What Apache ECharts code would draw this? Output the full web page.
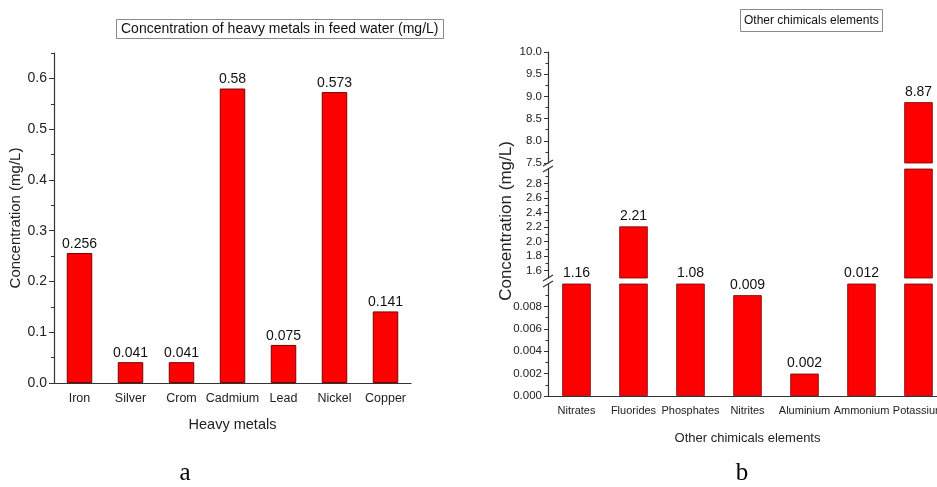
<!DOCTYPE html>
<html><head><meta charset="utf-8">
<script src="https://cdn.jsdelivr.net/npm/echarts@6/dist/echarts.min.js"></script>
<style>html,body{margin:0;padding:0;background:#fff}#c{width:937px;height:487px}</style>
</head><body><div id="c"></div>
<script>
// ---- data: chart a ----
const metals = ['Iron','Silver','Crom','Cadmium','Lead','Nickel','Copper'];
const metalValues = [0.256,0.041,0.041,0.58,0.075,0.573,0.141];
const metalTicks = [0,0.1,0.2,0.3,0.4,0.5,0.6];
const metalMinorTicks = [0.05,0.15,0.25,0.35,0.45,0.55,0.65];
// ---- data: chart b ----
const chems = ['Nitrates','Fluorides','Phosphates','Nitrites','Aluminium','Ammonium','Potassium'];
const chemValues = [1.16,2.21,1.08,0.009,0.002,0.012,8.87];
// broken axis segments (bottom -> top)
const segMin = [0, 1.5, 7.5];
const segMax = [0.01, 3.0, 10.0];
const lowTicks = [0,0.002,0.004,0.006,0.008];
const lowMinor = [0.001,0.003,0.005,0.007,0.009];
const midTicks = [1.6,1.8,2.0,2.2,2.4,2.6,2.8];
const midMinor = [1.7,1.9,2.1,2.3,2.5,2.7,2.9];
const upTicks = [7.5,8.0,8.5,9.0,9.5,10.0];
const upMinor = [7.75,8.25,8.75,9.25,9.75];
const segTicks = [lowTicks, midTicks, upTicks];
const segMinor = [lowMinor, midMinor, upMinor];
const segDecimals = [3, 1, 1];

const SANS = 'Liberation Sans, Arial, sans-serif';
const AX = '#333';
const RED = '#ff0000';
const BORDER = '#7a0000';

const chart = echarts.init(document.getElementById('c'), null, {renderer:'canvas'});

// layout of right chart segments (bottom -> top)
const RL = 548, RW = 399;
const segLayout = [{top:284,height:112},{top:169,height:109},{top:52,height:111}];

const grids = [{left:54, top:53, width:357, height:330, outerBoundsMode:'none', containLabel:false}];
segLayout.forEach(s=>grids.push({left:RL, top:s.top, width:RW, height:s.height, outerBoundsMode:'none', containLabel:false}));

const xAxes = [
  {gridIndex:0, type:'category', data:metals,
   axisLine:{lineStyle:{color:AX,width:1.2}},
   axisTick:{alignWithLabel:true, interval:0, length:5, lineStyle:{color:AX}},
   axisLabel:{interval:0, color:'#222', fontSize:12.5, fontFamily:SANS, margin:9},
   name:'Heavy metals', nameLocation:'middle', nameGap:34,
   nameTextStyle:{color:'#222', fontSize:14.5, fontFamily:SANS}},
  {gridIndex:0, type:'category', data:metals, position:'bottom',
   axisLine:{show:false}, axisLabel:{show:false},
   axisTick:{inside:true, interval:0, length:3, lineStyle:{color:AX}}}
];
const yAxes = [
  {gridIndex:0, type:'value', min:0, max:0.65, position:'left',
   splitLine:{show:false},
   axisLine:{show:true, lineStyle:{color:AX,width:1.2}},
   axisTick:{show:true, length:5, customValues:metalTicks, lineStyle:{color:AX}},
   axisLabel:{customValues:metalTicks, color:'#222', fontSize:14, fontFamily:SANS, margin:7,
     formatter:v=>v.toFixed(1)},
   name:'Concentration (mg/L)', nameLocation:'middle', nameGap:28, nameRotate:90,
   nameTextStyle:{color:'#222', fontSize:15, fontFamily:SANS}},
  {gridIndex:0, type:'value', min:0, max:0.65, position:'left', splitLine:{show:false},
   axisLine:{show:false}, axisLabel:{show:false},
   axisTick:{show:true, length:3, customValues:metalMinorTicks, lineStyle:{color:AX}}}
];

const series = [{
  type:'bar', xAxisIndex:0, yAxisIndex:0, data:metalValues, barWidth:'50%',
  itemStyle:{color:RED, borderColor:BORDER, borderWidth:1},
  label:{show:true, position:'top', distance:2, color:'#111', fontSize:14, fontFamily:SANS},
  animation:false
}];

function segLabel(k){
  return function(p){
    const v = p.value, lo = segMin[k];
    const hi = k+1 < segMin.length ? segMin[k+1] : Infinity;
    return (v >= lo && v < hi) ? String(v) : '';
  };
}

segMin.forEach((mn,k)=>{
  const g = k+1;
  const isLow = k===0;
  const xi = xAxes.length;
  xAxes.push({gridIndex:g, type:'category', data:chems, show:isLow,
    axisLine:{lineStyle:{color:AX,width:1.2}},
    axisTick:{alignWithLabel:true, interval:0, length:5, lineStyle:{color:AX}},
    axisLabel:{interval:0, color:'#222', fontSize:11, fontFamily:SANS, margin:9},
    name:isLow?'Other chimicals elements':'', nameLocation:'middle', nameGap:36,
    nameTextStyle:{color:'#222', fontSize:13, fontFamily:SANS}});
  if(isLow){
    xAxes.push({gridIndex:g, type:'category', data:chems, position:'bottom',
      axisLine:{show:false}, axisLabel:{show:false},
      axisTick:{inside:true, interval:0, length:3, lineStyle:{color:AX}}});
  }
  const yi = yAxes.length;
  yAxes.push({gridIndex:g, type:'value', min:mn, max:segMax[k], position:'left', splitLine:{show:false},
    axisLine:{show:true, lineStyle:{color:AX,width:1.2}},
    axisTick:{show:true, length:4, customValues:segTicks[k], lineStyle:{color:AX}},
    axisLabel:{customValues:segTicks[k], color:'#222', fontSize:11.5, fontFamily:SANS, margin:6,
      formatter:v=>v.toFixed(segDecimals[k])}});
  yAxes.push({gridIndex:g, type:'value', min:mn, max:segMax[k], position:'left', splitLine:{show:false},
    axisLine:{show:false}, axisLabel:{show:false},
    axisTick:{show:true, length:2.5, customValues:segMinor[k], lineStyle:{color:AX}}});
  series.push({type:'bar', xAxisIndex:xi, yAxisIndex:yi, data:chemValues, barWidth:'50%', clip:true,
    itemStyle:{color:RED, borderColor:BORDER, borderWidth:0.8},
    label:{show:true, position:'top', distance:3, color:'#111', fontSize:14, fontFamily:SANS,
      formatter:segLabel(k)},
    animation:false});
});

// axis-break marks in the gaps between segments
const breaks = [];
for(let k=0;k<segLayout.length-1;k++){
  const lowerTop = segLayout[k].top;
  const upperBottom = segLayout[k+1].top + segLayout[k+1].height;
  [upperBottom, lowerTop].forEach(y=>{
    breaks.push({type:'line', shape:{x1:RL-5, y1:y+3, x2:RL+5, y2:y-3},
      style:{stroke:AX, lineWidth:1.2}, z:100});
  });
}

chart.setOption({
  backgroundColor:'#fff',
  animation:false,
  title:[
    {text:'Concentration of heavy metals in feed water (mg/L)', left:116, top:19,
     padding:[3,5,3,5], borderColor:'#8a8a8a', borderWidth:1,
     textStyle:{fontSize:14, fontWeight:'normal', color:'#111', fontFamily:SANS}},
    {text:'Other chimicals elements', left:740, top:9,
     padding:[6,4,5,4], borderColor:'#8a8a8a', borderWidth:1,
     textStyle:{fontSize:12, fontWeight:'normal', color:'#111', fontFamily:SANS}}
  ],
  grid:grids, xAxis:xAxes, yAxis:yAxes, series:series,
  graphic:[
    ...breaks,
    {type:'text', x:506, y:221, rotation:Math.PI/2,
     style:{text:'Concentration (mg/L)', fontSize:17, fontFamily:SANS, fill:'#222',
       align:'center', verticalAlign:'middle'}},
    {type:'text', x:185, y:473, style:{text:'a', fontSize:25, fontFamily:'Liberation Serif, serif', fill:'#000', align:'center', verticalAlign:'middle'}},
    {type:'text', x:742, y:473, style:{text:'b', fontSize:25, fontFamily:'Liberation Serif, serif', fill:'#000', align:'center', verticalAlign:'middle'}}
  ]
});
</script></body></html>
